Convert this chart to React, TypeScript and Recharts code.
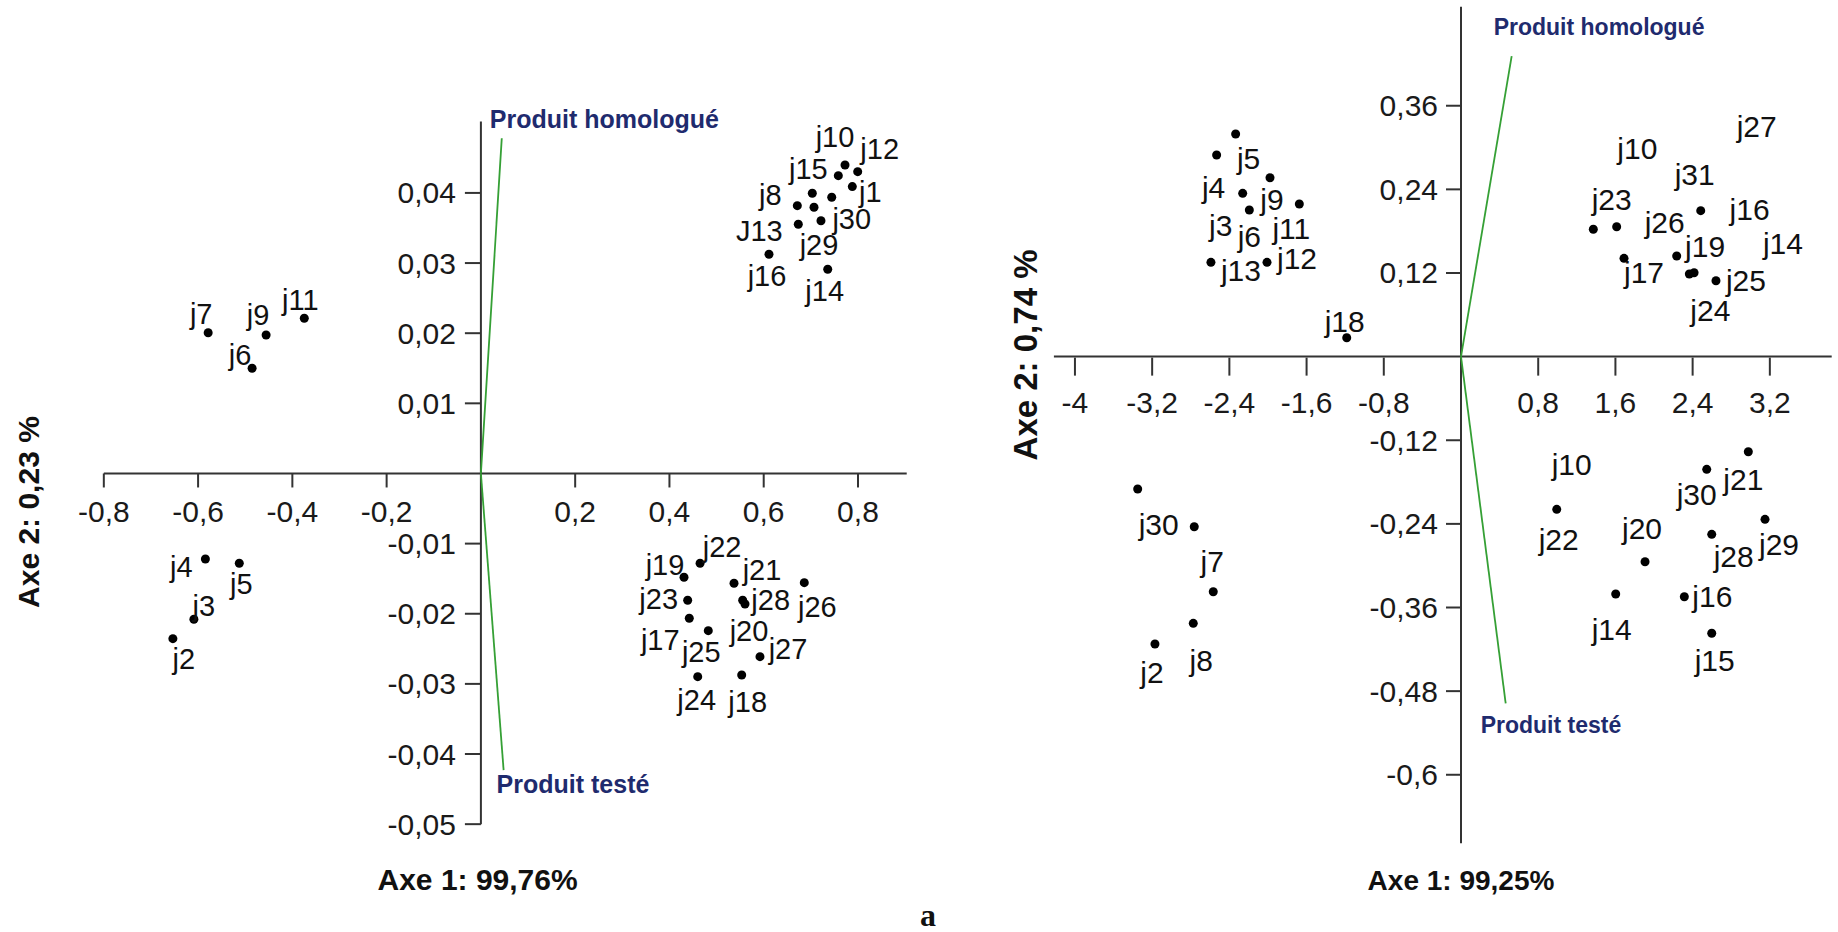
import React from 'react';
import { ScatterChart, Scatter, XAxis, YAxis, ReferenceLine } from 'recharts';

const W = 1838;
const H = 932;
const FONT = '"Liberation Sans", Arial, Helvetica, sans-serif';
const AXIS_COLOR = '#333333';
const TEXT_COLOR = '#1a1a1a';
const VAR_COLOR = '#1f2b6e';
const LOADING_COLOR = '#35a035';

// ---------------- Left biplot (Axe 1: 99,76 %, Axe 2: 0,23 %) ----------------
const leftNames = ['j1', 'j2', 'j3', 'j4', 'j5', 'j6', 'j7', 'j8', 'j9', 'j10', 'j11', 'j12', 'J13', 'j14', 'j15',
  'j16', 'j17', 'j18', 'j19', 'j20', 'j21', 'j22', 'j23', 'j24', 'j25', 'j26', 'j27', 'j28', 'j29', 'j30'];
const leftAxe1 = [0.788, -0.6535, -0.6089, -0.5845, -0.5126, -0.4854, -0.5786, 0.6713, -0.4557, 0.7725, -0.3747,
  0.7994, 0.6734, 0.7358, 0.7583, 0.6112, 0.4421, 0.5533, 0.4309, 0.5603, 0.537, 0.465, 0.4387, 0.46, 0.4824,
  0.6861, 0.5921, 0.5554, 0.7215, 0.7443];
const leftAxe2 = [0.0409, -0.02355, -0.02079, -0.01219, -0.0128, 0.015, 0.02007, 0.03818, 0.01975, 0.04398, 0.02213,
  0.04303, 0.03553, 0.02911, 0.04246, 0.03125, -0.02064, -0.02873, -0.0148, -0.01861, -0.01565, -0.0128, -0.01808,
  -0.02897, -0.02241, -0.01557, -0.02612, -0.01808, 0.03604, 0.03938];
// dots whose labels are hidden in the source
const leftHiddenAxe1 = [0.7031, 0.7067];
const leftHiddenAxe2 = [0.03995, 0.03795];
const leftVarNames = ['Produit homologué', 'Produit testé'];
const leftVarAxe1 = [0.0443, 0.0482];
const leftVarAxe2 = [0.0478, -0.0423];
const leftXTicks = [-0.8, -0.6, -0.4, -0.2, 0.2, 0.4, 0.6, 0.8];
const leftYTicks = [0.04, 0.03, 0.02, 0.01, -0.01, -0.02, -0.03, -0.04, -0.05];
const leftAxisX = [-0.8, 0.9034];
const leftAxisY = [-0.05, 0.0502];

// label placement (style), parallel to left arrays: [dx, dy] in px
const leftLabelOffsets: [number, number][] = [[18, 5], [11, 20], [10, -13], [-24, 8], [2, 21], [-12, -13], [-7, -19],
  [-27, -11], [-8, -20], [-10, -28], [-4, -18], [22, -23], [-39, 7], [-3, 22], [-30, -7], [-2, 22], [-29, 22],
  [6, 27], [-19, -12], [4, 27], [28, -13], [22, -16], [-29, -1], [-1, 23], [-7, 21], [13, 24], [28, -8], [28, 0],
  [-2, 24], [20, 22]];
const leftVarLabelOffsets: [number, number][] = [[-12, -10], [-7, 23]];

// ---------------- Right biplot (Axe 1: 99,25 %, Axe 2: 0,74 %) ----------------
const rightNames = ['j5', 'j4', 'j9', 'j3', 'j6', 'j11', 'j13', 'j12', 'j18', 'j23', 'j31', 'j26', 'j17', 'j24',
  'j19', 'j25', 'j30', 'j7', 'j8', 'j2', 'j21', 'j30', 'j22', 'j29', 'j28', 'j20', 'j14', 'j16', 'j15'];
const rightAxe1 = [-2.335, -2.532, -1.979, -2.262, -2.193, -1.675, -2.591, -2.01, -1.184, 1.613, 2.484, 2.235, 1.689,
  2.366, 2.415, 2.642, -3.35, -2.764, -2.774, -3.171, 2.977, 2.546, 0.992, 3.15, 2.598, 1.907, 1.603, 2.314, 2.598];
const rightAxe2 = [0.3194, 0.2893, 0.2567, 0.2343, 0.2104, 0.219, 0.1353, 0.1353, 0.0271, 0.1864, 0.2094, 0.1444,
  0.141, 0.1185, 0.1204, 0.1089, -0.19, -0.2441, -0.3827, -0.4124, -0.1365, -0.1617, -0.2191, -0.2335, -0.255,
  -0.2943, -0.3406, -0.3445, -0.397];
const rightHiddenAxe1 = [1.371, -2.567];
const rightHiddenAxe2 = [0.1827, -0.3374];
// labels printed without a visible dot in the source
const rightLabelOnlyNames = ['j27', 'j10', 'j16', 'j14', 'j10'];
const rightLabelOnlyAxe1 = [3.064, 1.827, 2.99, 3.336, 1.147];
const rightLabelOnlyAxe2 = [0.3299, 0.2989, 0.2105, 0.1629, -0.1555];
const rightVarNames = ['Produit homologué', 'Produit testé'];
const rightVarAxe1 = [0.525, 0.463];
const rightVarAxe2 = [0.4313, -0.4975];
const rightXTicks = [-4, -3.2, -2.4, -1.6, -0.8, 0.8, 1.6, 2.4, 3.2];
const rightYTicks = [0.36, 0.24, 0.12, -0.12, -0.24, -0.36, -0.48, -0.6];
const rightAxisX = [-4.218, 3.841];
const rightAxisY = [-0.6984, 0.502];

const rightLabelOffsets: [number, number][] = [[13, 24], [-3, 32], [2, 22], [-22, 32], [0, 27], [-8, 25], [30, 8],
  [30, -4], [-2, -16], [-5, -27], [-6, -36], [-12, -33], [20, 14], [21, 36], [11, -26], [30, 0], [21, 35], [18, 35],
  [8, 37], [-3, 28], [-5, 28], [-10, 25], [2, 30], [14, 25], [22, 22], [-3, -33], [-4, 36], [28, 0], [3, 27]];
const rightVarLabelOffsets: [number, number][] = [[-18, -21], [-25, 30]];

// ---------------- helpers ----------------
type Cfg = {
  xDomain: [number, number];
  yDomain: [number, number];
  margin: { top: number; right: number; bottom: number; left: number };
  yAxisWidth: number;
  xAxisHeight: number;
};

function zeroOf(cfg: Cfg) {
  const left = cfg.margin.left + cfg.yAxisWidth;
  const right = W - cfg.margin.right;
  const top = cfg.margin.top;
  const bottom = H - cfg.margin.bottom - cfg.xAxisHeight;
  const [x0, x1] = cfg.xDomain;
  const [y0, y1] = cfg.yDomain;
  return {
    zx: left + ((0 - x0) / (x1 - x0)) * (right - left),
    zy: top + ((y1 - 0) / (y1 - y0)) * (bottom - top),
  };
}

const fmt = (v: number) => String(v).replace('.', ',');

const zip = (names: string[], xs: number[], ys: number[]) =>
  xs.map((x, i) => ({ x, y: ys[i], name: names[i], i }));

type BiplotProps = {
  cfg: Cfg;
  names: string[];
  axe1: number[];
  axe2: number[];
  offsets: [number, number][];
  hiddenAxe1: number[];
  hiddenAxe2: number[];
  labelOnlyNames: string[];
  labelOnlyAxe1: number[];
  labelOnlyAxe2: number[];
  varNames: string[];
  varAxe1: number[];
  varAxe2: number[];
  varOffsets: [number, number][];
  varFont: number;
  xTicks: number[];
  yTicks: number[];
  axisX: number[];
  axisY: number[];
  xTitle: string;
  yTitle: string;
  xTitleFont: number;
  yTitleFont: number;
  yTitleOffset: number;
  yTitleDy: number;
  labelFont: number;
  xTickTop: number;
  xTickLen: number;
  xLabelDy: number;
  yTickLen: number;
  yLabelDx: number;
};

function Biplot(p: BiplotProps) {
  const { zx, zy } = zeroOf(p.cfg);
  const points = zip(p.names, p.axe1, p.axe2);
  const hidden = zip(p.hiddenAxe1.map(() => ''), p.hiddenAxe1, p.hiddenAxe2);
  const labelOnly = zip(p.labelOnlyNames, p.labelOnlyAxe1, p.labelOnlyAxe2);
  const vars = zip(p.varNames, p.varAxe1, p.varAxe2);

  const XTick = (t: any) => (
    <g>
      <line x1={t.x} x2={t.x} y1={zy + p.xTickTop} y2={zy + p.xTickTop + p.xTickLen} stroke={AXIS_COLOR} strokeWidth={2} />
      <text x={t.x} y={zy + p.xLabelDy} textAnchor="middle" dominantBaseline="central" fontSize={30}
        fontFamily={FONT} fill={TEXT_COLOR}>{fmt(t.payload.value)}</text>
    </g>
  );
  const YTick = (t: any) => (
    <g>
      <line x1={zx - p.yTickLen} x2={zx} y1={t.y} y2={t.y} stroke={AXIS_COLOR} strokeWidth={2} />
      <text x={zx + p.yLabelDx} y={t.y} textAnchor="end" dominantBaseline="central" fontSize={30}
        fontFamily={FONT} fill={TEXT_COLOR}>{fmt(t.payload.value)}</text>
    </g>
  );

  const dot = (s: any) => {
    const d = s.payload ?? s;
    const off = p.offsets[d.i] ?? [0, 0];
    return (
      <g>
        <circle cx={s.cx} cy={s.cy} r={4.5} fill="#000" />
        <text x={s.cx + off[0]} y={s.cy + off[1]} textAnchor="middle" dominantBaseline="central"
          fontSize={p.labelFont} fontFamily={FONT} fill="#111">{d.name}</text>
      </g>
    );
  };
  const plainDot = (s: any) => <circle cx={s.cx} cy={s.cy} r={4.5} fill="#000" />;
  const onlyLabel = (s: any) => {
    const d = s.payload ?? s;
    return (
      <text x={s.cx} y={s.cy} textAnchor="middle" dominantBaseline="central" fontSize={p.labelFont}
        fontFamily={FONT} fill="#111">{d.name}</text>
    );
  };
  const varLabel = (s: any) => {
    const d = s.payload ?? s;
    const off = p.varOffsets[d.i] ?? [0, 0];
    return (
      <text x={s.cx + off[0]} y={s.cy + off[1]} textAnchor="start" fontSize={p.varFont} fontWeight="bold"
        fontFamily={FONT} fill={VAR_COLOR}>{d.name}</text>
    );
  };

  const titleStyle = { fontFamily: FONT, fontWeight: 'bold' as const, fill: '#111' };

  return (
    <ScatterChart width={W} height={H} margin={p.cfg.margin}>
      <XAxis type="number" dataKey="x" domain={p.cfg.xDomain} ticks={p.xTicks} interval={0}
        axisLine={false} tickLine={false} height={p.cfg.xAxisHeight} tick={XTick}
        label={{ value: p.xTitle, position: 'insideBottom', offset: 42, style: { ...titleStyle, fontSize: p.xTitleFont } }} />
      <YAxis type="number" dataKey="y" domain={p.cfg.yDomain} ticks={p.yTicks} interval={0}
        axisLine={false} tickLine={false} width={p.cfg.yAxisWidth} tick={YTick}
        label={{ value: p.yTitle, angle: -90, position: 'insideLeft', offset: p.yTitleOffset, dy: p.yTitleDy,
          style: { ...titleStyle, fontSize: p.yTitleFont, textAnchor: 'middle' } }} />
      <ReferenceLine segment={[{ x: p.axisX[0], y: 0 }, { x: p.axisX[1], y: 0 }]} stroke={AXIS_COLOR}
        strokeWidth={2} ifOverflow="visible" />
      <ReferenceLine segment={[{ x: 0, y: p.axisY[0] }, { x: 0, y: p.axisY[1] }]} stroke={AXIS_COLOR}
        strokeWidth={2} ifOverflow="visible" />
      {vars.map((v) => (
        <ReferenceLine key={'load' + v.i} segment={[{ x: 0, y: 0 }, { x: v.x, y: v.y }]} stroke={LOADING_COLOR}
          strokeWidth={1.8} ifOverflow="visible" />
      ))}
      <Scatter data={vars} shape={varLabel} isAnimationActive={false} />
      <Scatter data={hidden} shape={plainDot} isAnimationActive={false} />
      <Scatter data={labelOnly} shape={onlyLabel} isAnimationActive={false} />
      <Scatter data={points} shape={dot} isAnimationActive={false} />
    </ScatterChart>
  );
}

const leftCfg: Cfg = {
  xDomain: [-0.96, 0.946],
  yDomain: [-0.06, 0.049],
  margin: { top: 129.8, right: 911.2, bottom: 0, left: 0 },
  yAxisWidth: 28.4,
  xAxisHeight: 37.7,
};

const rightCfg: Cfg = {
  xDomain: [-3.9, 3.9],
  yDomain: [-0.62, 0.51],
  margin: { top: 1.2, right: 0.6, bottom: 0, left: 1000 },
  yAxisWidth: 84.6,
  xAxisHeight: 143.3,
};

export default function App() {
  return (
    <div style={{ position: 'absolute', left: 0, top: 0, width: W, height: H, background: '#fff', overflow: 'hidden' }}>
      <div style={{ position: 'absolute', left: 0, top: 0 }}>
        <Biplot cfg={leftCfg} names={leftNames} axe1={leftAxe1} axe2={leftAxe2} offsets={leftLabelOffsets}
          hiddenAxe1={leftHiddenAxe1} hiddenAxe2={leftHiddenAxe2}
          labelOnlyNames={[]} labelOnlyAxe1={[]} labelOnlyAxe2={[]}
          varNames={leftVarNames} varAxe1={leftVarAxe1} varAxe2={leftVarAxe2} varOffsets={leftVarLabelOffsets}
          varFont={25} xTicks={leftXTicks} yTicks={leftYTicks} axisX={leftAxisX} axisY={leftAxisY}
          xTitle="Axe 1: 99,76%" yTitle="Axe 2: 0,23 %" xTitleFont={30} yTitleFont={30}
          yTitleOffset={28} yTitleDy={0} labelFont={29}
          xTickTop={0} xTickLen={14} xLabelDy={38} yTickLen={16} yLabelDx={-25} />
      </div>
      <div style={{ position: 'absolute', left: 0, top: 0 }}>
        <Biplot cfg={rightCfg} names={rightNames} axe1={rightAxe1} axe2={rightAxe2} offsets={rightLabelOffsets}
          hiddenAxe1={rightHiddenAxe1} hiddenAxe2={rightHiddenAxe2}
          labelOnlyNames={rightLabelOnlyNames} labelOnlyAxe1={rightLabelOnlyAxe1} labelOnlyAxe2={rightLabelOnlyAxe2}
          varNames={rightVarNames} varAxe1={rightVarAxe1} varAxe2={rightVarAxe2} varOffsets={rightVarLabelOffsets}
          varFont={23} xTicks={rightXTicks} yTicks={rightYTicks} axisX={rightAxisX} axisY={rightAxisY}
          xTitle="Axe 1: 99,25%" yTitle="Axe 2: 0,74 %" xTitleFont={28} yTitleFont={33}
          yTitleOffset={25.7} yTitleDy={-40} labelFont={30}
          xTickTop={1} xTickLen={18} xLabelDy={46} yTickLen={15} yLabelDx={-23} />
      </div>
      <svg width={W} height={H} style={{ position: 'absolute', left: 0, top: 0, pointerEvents: 'none' }}>
        <text x={928} y={926} textAnchor="middle" fontSize={32} fontWeight="bold"
          fontFamily='"Liberation Serif", "Times New Roman", serif' fill="#111">a</text>
      </svg>
    </div>
  );
}
